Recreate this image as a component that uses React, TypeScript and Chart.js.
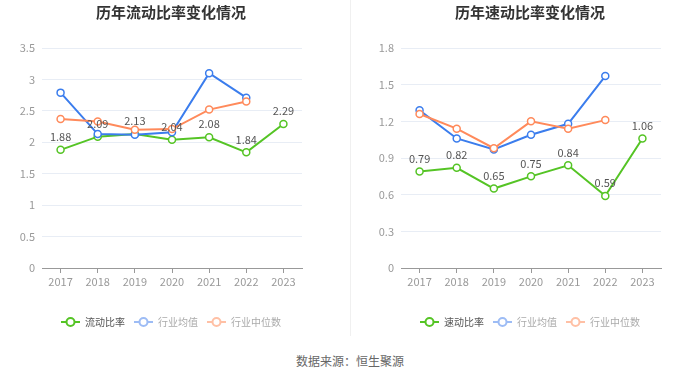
import React, { useEffect, useRef } from 'react';
import { Chart, registerables } from 'chart.js';

Chart.register(...registerables);

const years = ['2017', '2018', '2019', '2020', '2021', '2022', '2023'];

const currentRatio = [1.88, 2.09, 2.13, 2.04, 2.08, 1.84, 2.29];
const currentIndustryAvg = [2.79, 2.13, 2.12, 2.16, 3.1, 2.71, null];
const currentIndustryMedian = [2.37, 2.33, 2.2, 2.21, 2.52, 2.65, null];

const quickRatio = [0.79, 0.82, 0.65, 0.75, 0.84, 0.59, 1.06];
const quickIndustryAvg = [1.29, 1.06, 0.97, 1.09, 1.18, 1.57, null];
const quickIndustryMedian = [1.26, 1.14, 0.98, 1.2, 1.14, 1.21, null];

const currentNames = ['流动比率', '行业均值', '行业中位数'];
const quickNames = ['速动比率', '行业均值', '行业中位数'];

const FONT = '"Noto Sans CJK SC", "Noto Sans", sans-serif';

type Props = {
  title: string;
  names: string[];
  series: (number | null)[][];
  yMax: number;
  step: number;
};

function RatioChart({ title, names, series, yMax, step }: Props) {
  const ref = useRef<HTMLCanvasElement>(null);

  useEffect(() => {
    const colors = ['#55c425', '#3b7ded', '#ff8a5b'];
    const legendIcon = ['#55c425', '#9dbcf5', '#ffc0a5'];
    const legendText = ['#555', '#aaa', '#aaa'];

    const overlay = {
      id: 'overlay',
      afterDatasetsDraw(chart: any) {
        const ctx = chart.ctx;
        const meta = chart.getDatasetMeta(0);
        ctx.save();
        ctx.font = `11px ${FONT}`;
        ctx.fillStyle = '#555';
        ctx.textAlign = 'center';
        ctx.textBaseline = 'middle';
        meta.data.forEach((pt: any, i: number) => {
          const v = series[0][i];
          if (v == null) return;
          ctx.fillText(v.toFixed(2), pt.x, pt.y - 13);
        });
        ctx.restore();
      },
      afterDraw(chart: any) {
        const ctx = chart.ctx;
        ctx.save();
        // title
        ctx.font = `bold 15px ${FONT}`;
        ctx.fillStyle = '#333';
        ctx.textAlign = 'center';
        ctx.textBaseline = 'middle';
        ctx.fillText(title, chart.width / 2, 12);

        // legend
        ctx.font = `10px ${FONT}`;
        const iconW = 19;
        const gapIcon = 5;
        const gapItem = 9;
        const widths = names.map((n) => ctx.measureText(n).width);
        let total = 0;
        widths.forEach((w, i) => {
          total += iconW + gapIcon + w + (i > 0 ? gapItem : 0);
        });
        let x = chart.width / 2 - total / 2;
        const y = 322;
        names.forEach((n, i) => {
          ctx.strokeStyle = legendIcon[i];
          ctx.lineWidth = 2;
          ctx.beginPath();
          ctx.moveTo(x, y);
          ctx.lineTo(x + iconW, y);
          ctx.stroke();
          ctx.beginPath();
          ctx.arc(x + iconW / 2, y, 4, 0, Math.PI * 2);
          ctx.fillStyle = '#fff';
          ctx.fill();
          ctx.stroke();
          ctx.fillStyle = legendText[i];
          ctx.textAlign = 'left';
          ctx.textBaseline = 'middle';
          ctx.fillText(n, x + iconW + gapIcon, y);
          x += iconW + gapIcon + widths[i] + gapItem;
        });
        ctx.restore();
      },
    };

    const chart = new Chart(ref.current!, {
      type: 'line',
      data: {
        labels: years,
        datasets: series.map((d, i) => ({
          label: names[i],
          data: d,
          borderColor: colors[i],
          backgroundColor: '#fff',
          pointBackgroundColor: '#fff',
          pointBorderColor: colors[i],
          pointRadius: 3.5,
          pointBorderWidth: 1.5,
          borderWidth: 2,
          tension: 0,
          order: 3 - i,
          spanGaps: false,
        })),
      },
      options: {
        animation: false,
        responsive: false,
        maintainAspectRatio: false,
        layout: { padding: { left: 0, right: 40, top: 48, bottom: 42 } },
        plugins: {
          legend: { display: false },
          title: { display: false },
          tooltip: { enabled: false },
        },
        scales: {
          x: {
            offset: true,
            grid: {
              display: true,
              drawOnChartArea: false,
              drawTicks: true,
              tickLength: 5,
              color: '#999',
              offset: false,
            },
            border: { display: true, color: '#999' },
            ticks: {
              color: '#999',
              font: { size: 11, family: FONT },
              padding: 2,
              maxRotation: 0,
              autoSkip: false,
            },
            afterFit: (s: any) => {
              s.height = 30;
            },
          },
          y: {
            min: 0,
            max: yMax,
            ticks: {
              stepSize: step,
              color: '#999',
              font: { size: 11, family: FONT },
              padding: 7,
              callback: (v: any) => String(Number(Number(v).toFixed(2))),
            },
            grid: { color: '#E8EDF5', drawTicks: false },
            border: { display: false },
            afterFit: (s: any) => {
              s.width = 42;
            },
          },
        },
      } as any,
      plugins: [overlay],
    });
    return () => chart.destroy();
  }, []);

  return (
    <canvas
      ref={ref}
      width={342}
      height={340}
      style={{ display: 'block', width: 342, height: 340 }}
    />
  );
}

export default function App() {
  return (
    <div
      style={{
        position: 'fixed',
        left: 0,
        top: 0,
        width: 700,
        height: 377,
        background: '#fff',
        overflow: 'hidden',
      }}
    >
      <div style={{ position: 'absolute', left: 0, top: 0 }}>
        <RatioChart
          title="历年流动比率变化情况"
          names={currentNames}
          series={[currentRatio, currentIndustryAvg, currentIndustryMedian]}
          yMax={3.5}
          step={0.5}
        />
      </div>
      <div
        style={{
          position: 'absolute',
          left: 350,
          top: 0,
          width: 1,
          height: 336,
          background: '#f0f0f0',
        }}
      />
      <div style={{ position: 'absolute', left: 359, top: 0 }}>
        <RatioChart
          title="历年速动比率变化情况"
          names={quickNames}
          series={[quickRatio, quickIndustryAvg, quickIndustryMedian]}
          yMax={1.8}
          step={0.3}
        />
      </div>
      <div
        style={{
          position: 'absolute',
          left: 0,
          width: 700,
          top: 352,
          lineHeight: '18px',
          textAlign: 'center',
          font: `12px ${FONT}`,
          color: '#666',
        }}
      >
        数据来源：恒生聚源
      </div>
    </div>
  );
}
